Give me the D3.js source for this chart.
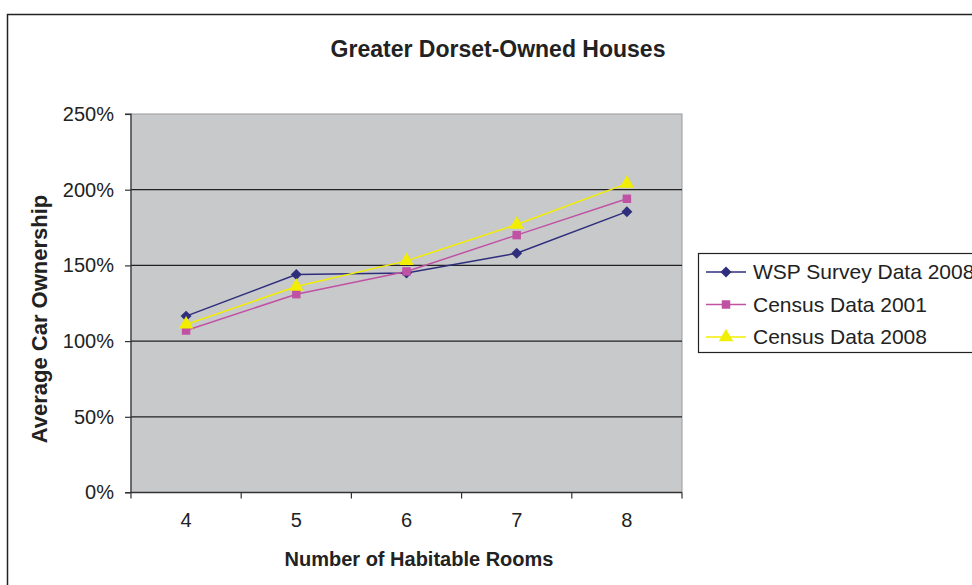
<!DOCTYPE html>
<html>
<head>
<meta charset="utf-8">
<script src="https://cdn.jsdelivr.net/npm/d3@7"></script>
<style>
  body { margin: 0; background: #fff; }
  text { font-family: "Liberation Sans", Arial, sans-serif; fill: #222; }
</style>
</head>
<body>
<svg id="chart" width="972" height="585"></svg>
<script>
const rooms = ['4', '5', '6', '7', '8'];
const seriesNames = ['WSP Survey Data 2008', 'Census Data 2001', 'Census Data 2008'];
const wsp2008 = [1.165, 1.44, 1.45, 1.58, 1.855];
const census2001 = [1.07, 1.31, 1.46, 1.70, 1.94];
const census2008 = [1.11, 1.36, 1.53, 1.77, 2.04];
const yTicks = [0, 0.5, 1, 1.5, 2, 2.5];

const colors = ['#2e2e7c', '#c052a4', '#f2ee00'];
const shapes = [d3.symbolSquare, d3.symbolSquare, d3.symbolTriangle];
const rotations = [45, 0, 0];
const sizes = [60, 72, 90];
const series = [wsp2008, census2001, census2008];

const svg = d3.select('#chart');

// outer chart border (runs off the right and bottom edges)
svg.append('rect')
  .attr('x', 7.5).attr('y', 14.5)
  .attr('width', 1000).attr('height', 1000)
  .attr('fill', '#fff')
  .attr('stroke', '#222')
  .attr('stroke-width', 1.5);

const plot = { left: 131, top: 114, right: 682, bottom: 492.5 };

const x = d3.scaleBand()
  .domain(rooms)
  .range([plot.left, plot.right]);

const y = d3.scaleLinear()
  .domain([0, 2.5])
  .range([plot.bottom, plot.top]);

// plot background
svg.append('rect')
  .attr('x', plot.left).attr('y', plot.top)
  .attr('width', plot.right - plot.left)
  .attr('height', plot.bottom - plot.top)
  .attr('fill', '#c8c9cb')
  .attr('stroke', '#9a9a9a')
  .attr('stroke-width', 1);

// gridlines
svg.append('g')
  .selectAll('line')
  .data(yTicks.filter(d => d > 0 && d < 2.5))
  .enter().append('line')
  .attr('x1', plot.left).attr('x2', plot.right)
  .attr('y1', d => y(d)).attr('y2', d => y(d))
  .attr('stroke', '#222')
  .attr('stroke-width', 1.2);

// y axis
const yAxis = svg.append('g')
  .attr('transform', 'translate(' + plot.left + ',0)')
  .call(d3.axisLeft(y)
    .tickValues(yTicks)
    .tickSize(6)
    .tickPadding(11)
    .tickFormat(d => Math.round(d * 100) + '%'));
yAxis.selectAll('text').attr('font-size', 20).style('fill', '#222');
yAxis.selectAll('line, path').attr('stroke', '#333').attr('stroke-width', 1.2);
yAxis.select('.domain').attr('d', 'M-6,' + y(2.5) + 'H0V' + y(0) + 'H-6');

// x axis
const xAxis = svg.append('g')
  .attr('transform', 'translate(0,' + plot.bottom + ')')
  .call(d3.axisBottom(x).tickSize(0).tickPadding(20));
xAxis.selectAll('text').attr('font-size', 20).style('fill', '#222');
xAxis.select('.domain').attr('stroke', '#333').attr('stroke-width', 1.5)
  .attr('d', 'M' + plot.left + ',0H' + plot.right);
xAxis.selectAll('.bound')
  .data(d3.range(rooms.length + 1))
  .enter().append('line')
  .attr('class', 'bound')
  .attr('x1', i => plot.left + i * x.bandwidth())
  .attr('x2', i => plot.left + i * x.bandwidth())
  .attr('y1', 0).attr('y2', 6)
  .attr('stroke', '#333').attr('stroke-width', 1.2);

// lines and markers
const line = d3.line()
  .x((d, i) => x(rooms[i]) + x.bandwidth() / 2)
  .y(d => y(d));

series.forEach(function (vals, s) {
  svg.append('path')
    .attr('d', line(vals))
    .attr('fill', 'none')
    .attr('stroke', colors[s])
    .attr('stroke-width', 1.5);
});

series.forEach(function (vals, s) {
  svg.append('g')
    .selectAll('path')
    .data(vals)
    .enter().append('path')
    .attr('transform', (d, i) => 'translate(' + (x(rooms[i]) + x.bandwidth() / 2) + ',' + y(d) + ') rotate(' + rotations[s] + ')')
    .attr('d', d3.symbol().type(shapes[s]).size(sizes[s]))
    .attr('fill', colors[s]);
});

// titles
svg.append('text')
  .attr('x', 498).attr('y', 57)
  .attr('text-anchor', 'middle')
  .attr('font-size', 23).attr('font-weight', 'bold')
  .text('Greater Dorset-Owned Houses');

svg.append('text')
  .attr('x', 419).attr('y', 566)
  .attr('text-anchor', 'middle')
  .attr('font-size', 20).attr('font-weight', 'bold')
  .text('Number of Habitable Rooms');

svg.append('text')
  .attr('transform', 'translate(47,319) rotate(-90)')
  .attr('text-anchor', 'middle')
  .attr('font-size', 22).attr('font-weight', 'bold')
  .text('Average Car Ownership');

// legend
const legend = svg.append('g').attr('transform', 'translate(698,253)');
legend.append('rect')
  .attr('x', 0.5).attr('y', 0.5)
  .attr('width', 400).attr('height', 99)
  .attr('fill', '#fff')
  .attr('stroke', '#222')
  .attr('stroke-width', 1.2);

const item = legend.selectAll('.item')
  .data(seriesNames)
  .enter().append('g')
  .attr('class', 'item')
  .attr('transform', (d, i) => 'translate(0,' + (19 + i * 32.5) + ')');
item.append('line')
  .attr('x1', 8).attr('x2', 48)
  .attr('stroke', (d, i) => colors[i])
  .attr('stroke-width', 1.5);
item.append('path')
  .attr('transform', (d, i) => 'translate(28,0) rotate(' + rotations[i] + ')')
  .attr('d', (d, i) => d3.symbol().type(shapes[i]).size(sizes[i])())
  .attr('fill', (d, i) => colors[i]);
item.append('text')
  .attr('x', 55).attr('y', 7)
  .attr('font-size', 21)
  .text(d => d);
</script>
</body>
</html>
